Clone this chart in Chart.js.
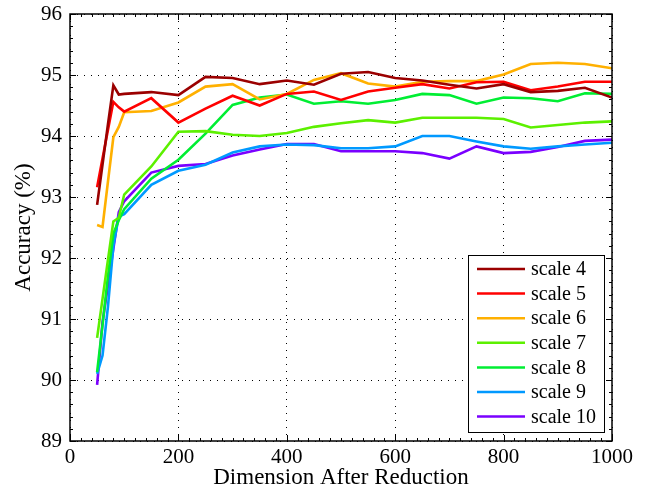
<!DOCTYPE html>
<html>
<head>
<meta charset="utf-8">
<script src="https://cdn.jsdelivr.net/npm/chart.js@4.4.1/dist/chart.umd.min.js"></script>
<style>
html,body{margin:0;padding:0;background:#fff;}
#wrap{width:648px;height:492px;position:relative;}
</style>
</head>
<body>
<div id="wrap"><canvas id="c" width="648" height="492"></canvas></div>
<script>
// ---- data ----
const dims = [50,60,70,80,90,100,150,200,250,300,350,400,450,500,550,600,650,700,750,800,850,900,950,1000];
const scale4  = [92.87,93.53,94.19,94.83,94.68,94.69,94.72,94.67,94.97,94.95,94.85,94.91,94.84,95.02,95.05,94.95,94.91,94.84,94.78,94.85,94.72,94.74,94.79,94.63];
const scale5  = [93.16,93.63,94.10,94.56,94.47,94.40,94.62,94.22,94.45,94.66,94.50,94.69,94.73,94.59,94.73,94.79,94.85,94.78,94.88,94.89,94.75,94.81,94.89,94.89];
const scale6  = [92.54,92.51,93.25,93.98,94.15,94.39,94.41,94.55,94.81,94.85,94.60,94.69,94.92,95.03,94.86,94.81,94.89,94.90,94.90,95.01,95.18,95.20,95.18,95.11];
const scale7  = [90.69,91.33,91.97,92.60,92.66,93.04,93.50,94.07,94.08,94.02,94.00,94.05,94.15,94.21,94.26,94.22,94.30,94.30,94.30,94.28,94.14,94.18,94.22,94.24];
const scale8  = [90.13,90.90,91.70,92.40,92.62,92.80,93.30,93.61,94.04,94.51,94.63,94.68,94.53,94.57,94.53,94.59,94.69,94.67,94.53,94.63,94.62,94.57,94.70,94.69];
const scale9  = [90.10,90.40,91.20,92.20,92.68,92.72,93.20,93.43,93.53,93.73,93.83,93.86,93.85,93.80,93.80,93.83,94.00,94.00,93.91,93.83,93.79,93.83,93.86,93.89];
const scale10 = [89.92,90.95,91.55,92.15,92.75,92.93,93.40,93.51,93.54,93.68,93.78,93.87,93.87,93.75,93.75,93.75,93.72,93.63,93.83,93.72,93.74,93.82,93.92,93.94];
const seriesNames = ['scale 4','scale 5','scale 6','scale 7','scale 8','scale 9','scale 10'];
const seriesValues = [scale4,scale5,scale6,scale7,scale8,scale9,scale10];
const seriesColors = ['#9b0000','#ff0000','#ffb000','#5cf000','#00ee33','#0099ff','#7a00ff'];
const xTicks = [0,200,400,600,800,1000];
const yTicks = [89,90,91,92,93,94,95,96];

const SERIF = '"Liberation Serif","Times New Roman",serif';

const datasets = seriesNames.map((name,i)=>({
  label:name,
  data: dims.map((d,j)=>({x:d,y:seriesValues[i][j]})),
  borderColor: seriesColors[i],
  backgroundColor: seriesColors[i],
  borderWidth: 2.6,
  pointRadius: 0,
  tension: 0,
  fill:false
}));

const framePlugin = {
  id:'frame',
  afterDatasetsDraw(chart){
    const {ctx, chartArea:a, scales:{x,y}} = chart;
    ctx.save();
    ctx.strokeStyle = '#000';
    ctx.lineWidth = 1;
    ctx.setLineDash([]);
    ctx.beginPath();
    for(let v=0; v<=1000; v+=20){
      const px = Math.round(x.getPixelForValue(v))+0.5;
      const len = (v%200===0)?6:3;
      ctx.moveTo(px,a.bottom); ctx.lineTo(px,a.bottom-len);
      ctx.moveTo(px,a.top); ctx.lineTo(px,a.top+len);
    }
    for(let k=0; k<=35; k++){
      const v = 89 + k*0.2;
      const py = Math.round(y.getPixelForValue(v))+0.5;
      const len = (k%5===0)?6:3;
      ctx.moveTo(a.left,py); ctx.lineTo(a.left+len,py);
      ctx.moveTo(a.right,py); ctx.lineTo(a.right-len,py);
    }
    ctx.stroke();
    ctx.lineWidth = 1.5;
    ctx.strokeRect(a.left, a.top, a.right-a.left, a.bottom-a.top);
    // legend box
    const bx=468.5, by=255.5, bw=136, bh=177;
    ctx.fillStyle='#fff';
    ctx.fillRect(bx,by,bw,bh);
    ctx.lineWidth=1;
    ctx.strokeRect(bx,by,bw,bh);
    ctx.font = '20px '+SERIF;
    ctx.textBaseline='middle';
    ctx.textAlign='left';
    chart.data.datasets.forEach((ds,i)=>{
      const ly = 269 + i*24.6;
      ctx.strokeStyle = ds.borderColor;
      ctx.lineWidth = 2.5;
      ctx.beginPath(); ctx.moveTo(477,ly); ctx.lineTo(525,ly); ctx.stroke();
      ctx.fillStyle='#000';
      ctx.fillText(ds.label, 531, ly+1);
    });
    ctx.restore();
  }
};

new Chart(document.getElementById('c'),{
  type:'line',
  data:{datasets},
  options:{
    responsive:false,
    animation:false,
    layout:{padding:{left:0,right:36,top:14,bottom:0}},
    plugins:{legend:{display:false},tooltip:{enabled:false}},
    scales:{
      x:{
        type:'linear', min:0, max:1000,
        afterBuildTicks(s){ s.ticks = xTicks.map(v=>({value:v})); },
        afterFit(s){ s.height = 51; s.paddingLeft = 0; s.paddingRight = 0; },
        grid:{color:'#000', lineWidth:1, drawTicks:false},
        border:{display:false, dash:[1,6]},
        ticks:{color:'#000', font:{family:SERIF,size:21}, padding:4, maxRotation:0, callback:(v)=>String(v)},
        title:{display:true, text:'Dimension After Reduction', color:'#000', font:{family:SERIF,size:23}, padding:{top:0,bottom:0}}
      },
      y:{
        type:'linear', min:89, max:96,
        afterBuildTicks(s){ s.ticks = yTicks.map(v=>({value:v})); },
        afterFit(s){ s.width = 70; s.paddingTop = 0; s.paddingBottom = 0; },
        grid:{color:'#000', lineWidth:1, drawTicks:false},
        border:{display:false, dash:[1,6]},
        ticks:{color:'#000', font:{family:SERIF,size:21}, padding:8, callback:(v)=>String(v)},
        title:{display:true, text:'Accuracy (%)', color:'#000', font:{family:SERIF,size:23}, padding:{top:10,bottom:0}}
      }
    }
  },
  plugins:[framePlugin]
});
</script>
</body>
</html>
